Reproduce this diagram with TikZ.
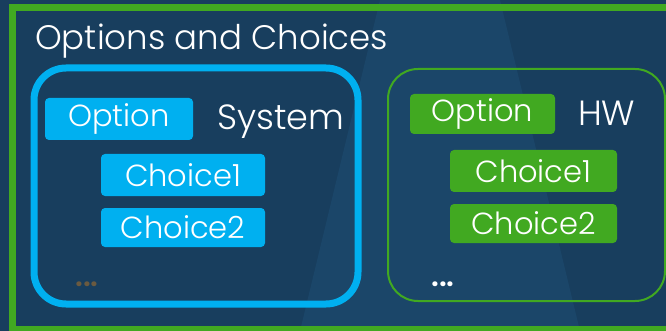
\documentclass[tikz,border=0pt]{standalone}
\usepackage{fontspec}
\IfFontExistsTF{Poppins Light}{\setmainfont{Poppins Light}}{\setmainfont{Poppins}}
\definecolor{bgblue}{HTML}{183E5E}
\definecolor{bglight}{HTML}{1B4669}
\definecolor{accblue}{HTML}{00B0F0}
\definecolor{accgreen}{HTML}{41A921}
\definecolor{dimdots}{HTML}{6A5A40}
\tikzset{
  pill/.style={rounded corners=4pt, inner sep=0pt, text=white, font=\fontsize{30.5}{32}\selectfont},
  bluepill/.style={pill, fill=accblue},
  greenpill/.style={pill, fill=accgreen},
  label/.style={inner sep=0pt, text=white, anchor=base west, font=\fontsize{35}{38}\selectfont},
  dots/.style={inner sep=0pt, anchor=base, font=\fontsize{30}{32}\selectfont\bfseries},
}
\begin{document}
\begin{tikzpicture}[x=1pt,y=-1pt]
\useasboundingbox (0,0) rectangle (666,331);
\clip (0,0) rectangle (666,331);
\fill[bgblue] (0,0) rectangle (666,331);
\fill[bglight] (380,0) -- (500,0) -- (580,331) -- (300,331) -- cycle;
\draw[accgreen, line width=7pt] (12.5,7.5) rectangle (680,329);
\node[label, font=\fontsize{34}{36}\selectfont] (title) at (35,50) {Options and Choices};
% left box
\node[draw=accblue, line width=7pt, rounded corners=32pt, minimum width=324pt, minimum height=236pt, inner sep=0pt] (boxA) at (196,186) {};
\node[bluepill, minimum width=148pt, minimum height=42pt] (optA) at (119,119) {Option};
\node[label] (sysA) at (217,130) {System};
\node[bluepill, minimum width=164pt, minimum height=42pt] (chA1) at (183,175) {Choice1};
\node[bluepill, minimum width=164pt, minimum height=39pt] (chA2) at (183,227.5) {Choice2};
\node[dots, text=dimdots] (dotsA) at (87,286) {...};
% right box
\node[draw=accgreen, line width=2pt, rounded corners=30pt, minimum width=277pt, minimum height=232pt, inner sep=0pt] (boxB) at (526.5,185) {};
\node[greenpill, minimum width=145pt, minimum height=40pt] (optB) at (482.5,114) {Option};
\node[label] (hwB) at (578,126) {HW};
\node[greenpill, minimum width=167pt, minimum height=42pt] (chB1) at (533.5,171) {Choice1};
\node[greenpill, minimum width=167pt, minimum height=39pt] (chB2) at (533.5,223.5) {Choice2};
\node[dots, text=white] (dotsB) at (443,286) {...};
\end{tikzpicture}
\end{document}
